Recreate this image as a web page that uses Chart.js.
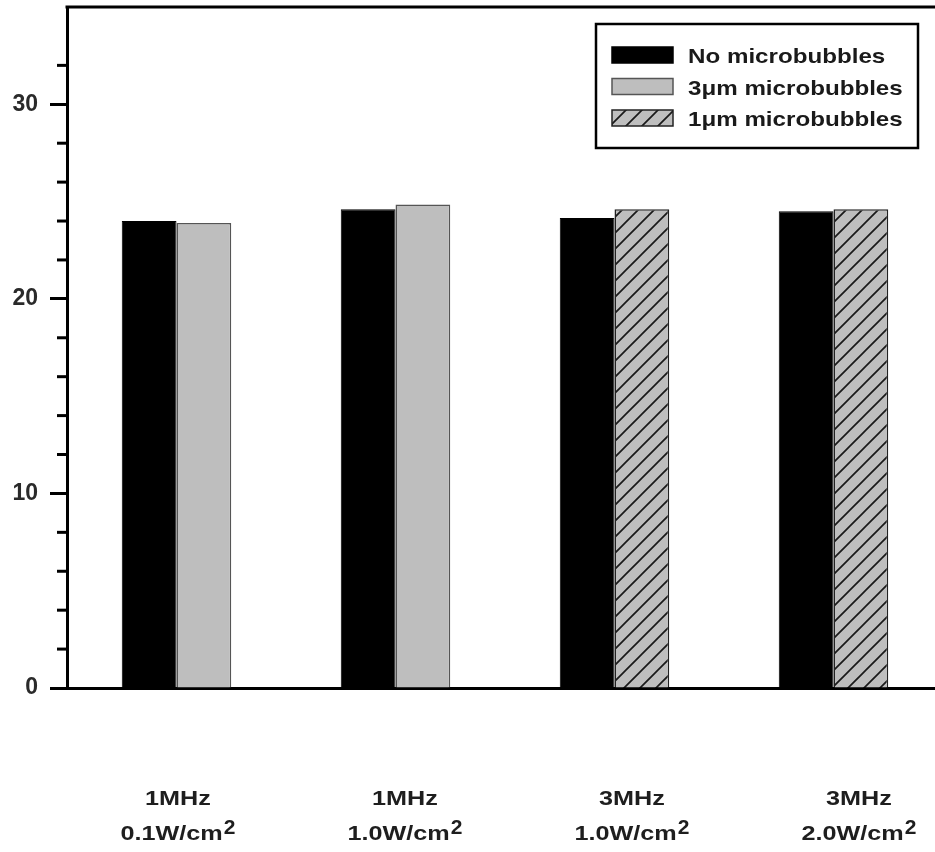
<!DOCTYPE html>
<html><head><meta charset="utf-8">
<script src="https://cdn.jsdelivr.net/npm/chart.js@4.4.1/dist/chart.umd.min.js"></script>
<style>
html,body{margin:0;padding:0;background:#fff;overflow:hidden;}
#wrap{position:absolute;left:0;top:0;width:950px;height:852px;}
</style></head><body>
<div id="wrap"><canvas id="c"></canvas></div>
<script>
// ---- data ----
const frequencies = ['1MHz', '1MHz', '3MHz', '3MHz'];
const intensities = ['0.1W/cm', '1.0W/cm', '1.0W/cm', '2.0W/cm'];
const intensityExponent = '2';
const seriesNames = ['No microbubbles', '3\u03bcm microbubbles', '1\u03bcm microbubbles'];
const noMicrobubbles = [24.0, 24.6, 24.15, 24.5];
const microbubbles3um = [23.9, 24.85, null, null];
const microbubbles1um = [null, null, 24.6, 24.6];
const yMin = 0, yMax = 35, yStep = 2, yLabelStep = 10;

const FONT = "'Liberation Sans', Arial, sans-serif";

function makeHatch() {
  const c = document.createElement('canvas'); c.width = 16; c.height = 16;
  const g = c.getContext('2d');
  g.fillStyle = '#bebebe'; g.fillRect(0, 0, 16, 16);
  g.strokeStyle = '#1a1a1a'; g.lineWidth = 1.7;
  g.beginPath();
  g.moveTo(-2, 18); g.lineTo(18, -2);
  g.moveTo(-2, 2); g.lineTo(2, -2);
  g.moveTo(14, 18); g.lineTo(18, 14);
  g.stroke();
  return g.createPattern(c, 'repeat');
}
const hatch = makeHatch();

function drawStretched(ctx, text, x, y, sx) {
  ctx.save(); ctx.translate(x, y); ctx.scale(sx, 1); ctx.fillText(text, 0, 0); ctx.restore();
}

const minorTicks = {
  id: 'minorTicks',
  afterDraw(chart) {
    const y = chart.scales.y, ctx = chart.ctx;
    ctx.save(); ctx.strokeStyle = '#000'; ctx.lineWidth = 3;
    y.ticks.forEach(t => {
      if (t.value % yLabelStep !== 0) {
        const py = y.getPixelForValue(t.value);
        ctx.beginPath(); ctx.moveTo(y.right - 10, py); ctx.lineTo(y.right, py); ctx.stroke();
      }
    });
    ctx.restore();
  }
};

const frame = {
  id: 'frame',
  afterDraw(chart) {
    const a = chart.chartArea, ctx = chart.ctx;
    ctx.save(); ctx.strokeStyle = '#000'; ctx.lineWidth = 3;
    ctx.beginPath(); ctx.moveTo(a.left - 1.5, a.top); ctx.lineTo(a.right, a.top); ctx.lineTo(a.right, a.bottom); ctx.stroke();
    ctx.restore();
  }
};

const boxLegend = {
  id: 'boxLegend',
  afterDraw(chart) {
    const a = chart.chartArea, ctx = chart.ctx;
    const bx = a.right - 347, by = a.top + 17, bw = 322, bh = 124;
    ctx.save();
    ctx.fillStyle = '#fff'; ctx.fillRect(bx, by, bw, bh);
    ctx.strokeStyle = '#000'; ctx.lineWidth = 2.5; ctx.strokeRect(bx, by, bw, bh);
    chart.data.datasets.forEach((ds, i) => {
      const sy = by + 23 + i * 31.5;
      ctx.fillStyle = ds.backgroundColor;
      ctx.fillRect(bx + 16, sy, 61, 16);
      ctx.strokeStyle = ds.borderColor; ctx.lineWidth = 1.5;
      ctx.strokeRect(bx + 16, sy, 61, 16);
      ctx.fillStyle = '#1a1a1a';
      ctx.font = 'bold 21px ' + FONT;
      ctx.textAlign = 'left'; ctx.textBaseline = 'alphabetic';
      drawStretched(ctx, ds.label, bx + 92, sy + 16, 1.15);
    });
    ctx.restore();
  }
};

const xLabels = {
  id: 'xLabels',
  afterDraw(chart) {
    const x = chart.scales.x, ctx = chart.ctx, sx = 1.2;
    ctx.save();
    ctx.fillStyle = '#1e1e1e'; ctx.font = 'bold 21px ' + FONT;
    ctx.textAlign = 'left'; ctx.textBaseline = 'alphabetic';
    frequencies.forEach((f, i) => {
      const cx = x.getPixelForValue(i) + 1.5 + 8 * i;
      const w1 = ctx.measureText(f).width * sx;
      drawStretched(ctx, f, cx - w1 / 2, 805, sx);
      const wm = ctx.measureText(intensities[i]).width * sx;
      const we = ctx.measureText(intensityExponent).width;
      const start = cx - (wm + we + 1) / 2;
      drawStretched(ctx, intensities[i], start, 840, sx);
      ctx.fillText(intensityExponent, start + wm + 1, 834);
    });
    ctx.restore();
  }
};

new Chart(document.getElementById('c'), {
  type: 'bar',
  data: {
    labels: frequencies.map((f, i) => f + ' ' + intensities[i] + '\u00b2'),
    datasets: [
      { label: seriesNames[0], data: noMicrobubbles, backgroundColor: '#000', borderColor: '#000', borderWidth: 1 },
      { label: seriesNames[1], data: microbubbles3um, backgroundColor: '#bebebe', borderColor: '#555', borderWidth: 1.5 },
      { label: seriesNames[2], data: microbubbles1um, backgroundColor: hatch, borderColor: '#222', borderWidth: 1.5 }
    ]
  },
  options: {
    responsive: true, maintainAspectRatio: false, animation: false,
    layout: { padding: { left: 0, right: 7, top: 7, bottom: 0 } },
    datasets: { bar: { skipNull: true, categoryPercentage: 0.5, barPercentage: 1, borderSkipped: 'bottom' } },
    plugins: { legend: { display: false }, tooltip: { enabled: false } },
    scales: {
      x: {
        grid: { display: false, drawTicks: false },
        border: { display: true, color: '#000', width: 3 },
        ticks: { display: false },
        afterFit(s) { s.height = 164; s.paddingLeft = 0; s.paddingRight = 0; }
      },
      y: {
        min: yMin, max: yMax,
        ticks: {
          stepSize: yStep,
          callback: v => (v % yLabelStep === 0 ? v : ''),
          font: { family: FONT, weight: 'bold', size: 23 },
          color: '#2a2a2a', padding: 12
        },
        afterBuildTicks(s) { s.ticks = s.ticks.filter(t => t.value % yStep === 0); },
        grid: {
          drawOnChartArea: false, tickLength: 17, tickWidth: 3,
          tickColor: c => (c.tick && c.tick.value % yLabelStep === 0 ? '#000' : 'rgba(0,0,0,0)')
        },
        border: { display: true, color: '#000', width: 3 },
        afterFit(s) { s.width = 67; s.paddingTop = 0; s.paddingBottom = 0; }
      }
    }
  },
  plugins: [minorTicks, frame, boxLegend, xLabels]
});
</script>
</body></html>
